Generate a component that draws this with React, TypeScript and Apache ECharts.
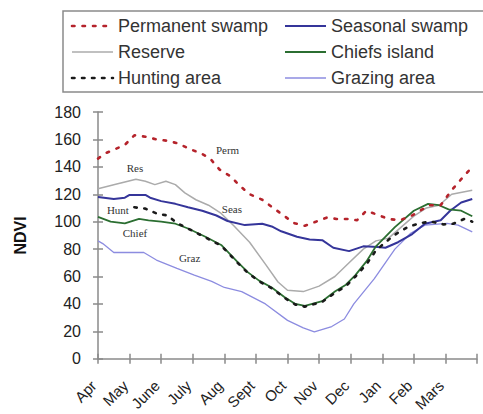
import React, { useEffect, useRef } from "react";
import * as echarts from "echarts";

const months = ["Apr", "May", "June", "July", "Aug", "Sept", "Oct", "Nov", "Dec", "Jan", "Feb", "Mars", ""];
const yTicks = [0, 20, 40, 60, 80, 100, 120, 140, 160, 180];

// [month position, NDVI]
const permanentSwamp: [number, number][] = [
  [0, 146], [0.25, 150], [0.55, 153], [0.85, 156], [1.15, 163], [1.5, 162], [1.85, 160], [2.2, 159],
  [2.55, 157], [2.9, 153], [3.25, 150], [3.55, 146], [3.85, 138], [4.2, 133], [4.5, 126], [4.8, 120],
  [5.2, 116], [5.55, 110], [5.85, 105], [6.2, 99], [6.55, 97], [6.9, 100], [7.25, 103], [7.55, 102],
  [7.9, 102], [8.2, 101], [8.5, 108], [8.85, 105], [9.2, 102], [9.55, 101], [9.9, 104], [10.2, 108],
  [10.5, 112], [10.85, 112], [11.2, 123], [11.5, 131], [11.85, 140],
];
const seasonalSwamp: [number, number][] = [
  [0, 118], [0.5, 116.5], [0.85, 117.5], [1.0, 119.5], [1.5, 119.5], [1.65, 117.5], [2.0, 115],
  [2.45, 113], [2.85, 110.5], [3.3, 108], [3.75, 104.5], [4.1, 100.5], [4.65, 97.5], [5.2, 98.5],
  [5.5, 96.5], [5.8, 93], [6.3, 89], [6.7, 87], [7.1, 86.5], [7.45, 81], [7.95, 78.5], [8.4, 82],
  [8.85, 81.5], [9.1, 81], [9.5, 85], [9.95, 91], [10.35, 98.5], [10.85, 101], [11.15, 108],
  [11.5, 114], [11.85, 116.5],
];
const reserve: [number, number][] = [
  [0, 124], [0.5, 127], [0.85, 129], [1.2, 131], [1.5, 129.5], [1.8, 127], [2.15, 129.5], [2.45, 127],
  [2.75, 121], [3.1, 116], [3.5, 112], [3.9, 106], [4.3, 97], [4.8, 85], [5.3, 69], [5.7, 56],
  [6.0, 50], [6.5, 49], [7.0, 53], [7.5, 60], [7.9, 69], [8.4, 80], [8.8, 86], [9.2, 88], [9.6, 96],
  [10.0, 104], [10.4, 110], [10.8, 112], [11.2, 120], [11.85, 123],
];
const chiefsIsland: [number, number][] = [
  [0, 103.5], [0.4, 100], [0.85, 98.7], [1.3, 102], [1.6, 101], [2.0, 100], [2.45, 98.5], [2.85, 95],
  [3.4, 89], [3.9, 83], [4.4, 71], [4.75, 63], [5.1, 57], [5.5, 52], [5.9, 45], [6.25, 40], [6.55, 38.5],
  [7.1, 42], [7.5, 49], [7.85, 54], [8.15, 61], [8.5, 71], [8.8, 82], [9.4, 96], [10.0, 108],
  [10.45, 113], [10.8, 112], [11.1, 109], [11.5, 108], [11.85, 104],
];
const huntingArea: [number, number][] = [
  [1.15, 110.5], [1.5, 109.5], [1.85, 106], [2.2, 104.5], [2.5, 99], [2.85, 95], [3.4, 88.5], [3.9, 82.5],
  [4.4, 70.5], [4.75, 62.5], [5.1, 56.5], [5.5, 51.5], [5.9, 44.5], [6.25, 39.5], [6.55, 38], [7.1, 41.5],
  [7.5, 48], [7.85, 53], [8.15, 60], [8.5, 69], [8.8, 79], [9.1, 85], [9.4, 90.5], [9.8, 96], [10.2, 99],
  [10.55, 100], [10.95, 98], [11.25, 98.5], [11.6, 102], [11.85, 100],
];
const grazingArea: [number, number][] = [
  [0, 86], [0.15, 84], [0.5, 77.5], [1.45, 77.5], [1.85, 72], [2.5, 66], [3.05, 61], [3.6, 56.5],
  [4.0, 52], [4.55, 49], [5.3, 40], [6.0, 28], [6.5, 22.5], [6.85, 19.6], [7.4, 23.5], [7.8, 29],
  [8.1, 40], [8.75, 58.5], [9.4, 80], [9.9, 91.5], [10.35, 97.5], [11.05, 98.7], [11.4, 97.5], [11.85, 92.5],
];
const annotationNames = ["Perm", "Res", "Seas", "Hunt", "Chief", "Graz"];
const annotationPos: [number, number][] = [
  [4.1, 152], [1.17, 139.5], [4.24, 109], [0.63, 108.5], [1.17, 91.5], [2.9, 73.5],
];

// legend order: left column, right column
const legendLeft = ["Permanent swamp", "Reserve", "Hunting area"];
const legendRight = ["Seasonal swamp", "Chiefs island", "Grazing area"];

const FONT = "'Liberation Sans', Arial, sans-serif";

const styles: Record<string, { color: string; width: number; dash?: number[] }> = {
  "Permanent swamp": { color: "#b5232b", width: 2.6, dash: [2.5, 8] },
  "Seasonal swamp": { color: "#35359a", width: 2 },
  Reserve: { color: "#ababab", width: 1.5 },
  "Chiefs island": { color: "#2b6e31", width: 1.8 },
  "Hunting area": { color: "#1a1a1a", width: 2.6, dash: [2.5, 7.5] },
  "Grazing area": { color: "#8c8ce0", width: 1.3 },
};

export default function App() {
  const ref = useRef<HTMLDivElement>(null);
  useEffect(() => {
    if (!ref.current) return;
    const chart = echarts.init(ref.current, undefined, { renderer: "svg" });

    const legendGraphics: any[] = [];
    const addColumn = (names: string[], x0: number) => {
      names.forEach((n, i) => {
        const s = styles[n];
        const y = 26 + i * 26;
        legendGraphics.push({
          type: "line",
          shape: { x1: x0, y1: y, x2: x0 + 41, y2: y },
          style: { stroke: s.color, lineWidth: s.width, lineDash: s.dash, lineCap: s.dash ? "round" : "butt" },
        });
        legendGraphics.push({
          type: "text",
          x: x0 + 46, y,
          style: { text: n, fontSize: 18, fontFamily: FONT, fill: "#333", verticalAlign: "middle", align: "left" },
        });
      });
    };
    addColumn(legendLeft, 72);
    addColumn(legendRight, 285);

    const lineSeries = (name: string, data: [number, number][], z: number) => {
      const s = styles[name];
      return {
        name, type: "line", data, symbol: "none", z,
        lineStyle: { color: s.color, width: s.width, type: s.dash ?? "solid", cap: s.dash ? "round" : "butt" },
        itemStyle: { color: s.color },
      };
    };

    const baseGraphic = [
      { type: "rect", shape: { x: 63, y: 11, width: 440, height: 81 }, style: { fill: "none", stroke: "#8a8a8a", lineWidth: 1.5 } },
      ...legendGraphics,
    ];

    const option: any = {
      animation: false,
      backgroundColor: "#fff",
      grid: { left: 98, right: 6, top: 112, bottom: 48 },
      graphic: baseGraphic,
      xAxis: [
        {
          type: "value", min: 0, max: 12, interval: 1,
          axisLine: { lineStyle: { color: "#8a8a8a", width: 1.5 } },
          axisTick: { length: 5, lineStyle: { color: "#8a8a8a", width: 1.5 } },
          splitLine: { show: false },
          axisLabel: {
            rotate: 45, margin: 20, fontSize: 15, fontFamily: FONT, color: "#222",
            padding: [0, 6, 0, 0],
            formatter: (v: number) => months[Math.round(v)] ?? "",
          },
        },
        {
          type: "value", min: 0, max: 12, interval: 1, position: "bottom",
          axisLine: { show: false }, axisLabel: { show: false }, splitLine: { show: false },
          axisTick: { inside: true, length: 5, lineStyle: { color: "#8a8a8a", width: 1.5 } },
        },
      ],
      yAxis: [
        {
          type: "value", min: 0, max: 180, interval: 20,
          name: "NDVI", nameLocation: "middle", nameGap: 70,
          nameTextStyle: { fontSize: 16, fontWeight: "bold", fontFamily: FONT, color: "#111" },
          axisLine: { show: true, lineStyle: { color: "#8a8a8a", width: 1.5 } },
          axisTick: { show: true, length: 5, lineStyle: { color: "#8a8a8a", width: 1.5 } },
          splitLine: { show: false },
          axisLabel: {
            margin: 17, fontSize: 16, fontFamily: FONT, color: "#222",
            formatter: (v: number) => (yTicks.includes(v) ? String(v) : ""),
          },
        },
        {
          type: "value", min: 0, max: 180, interval: 20, position: "left",
          axisLine: { show: false }, axisLabel: { show: false }, splitLine: { show: false },
          axisTick: { show: true, inside: true, length: 5, lineStyle: { color: "#8a8a8a", width: 1.5 } },
        },
      ],
      series: [
        lineSeries("Reserve", reserve, 2),
        lineSeries("Grazing area", grazingArea, 2),
        lineSeries("Seasonal swamp", seasonalSwamp, 3),
        lineSeries("Chiefs island", chiefsIsland, 3),
        lineSeries("Hunting area", huntingArea, 4),
        lineSeries("Permanent swamp", permanentSwamp, 4),
      ],
    };
    chart.setOption(option);

    const labelGraphics = annotationNames.map((name, i) => {
      const [px, py] = chart.convertToPixel({ xAxisIndex: 0, yAxisIndex: 0 }, annotationPos[i]) as number[];
      return {
        type: "text", x: px, y: py, z: 10,
        style: {
          text: name, fontSize: 11, fontFamily: "'Liberation Serif', 'DejaVu Serif', serif",
          fill: "#333", align: "center", verticalAlign: "middle",
        },
      };
    });
    chart.setOption({ graphic: [...baseGraphic, ...labelGraphics] }, { replaceMerge: ["graphic"] });

    return () => chart.dispose();
  }, []);
  return <div ref={ref} style={{ width: 483, height: 414, position: "absolute", left: 0, top: 0 }} />;
}
